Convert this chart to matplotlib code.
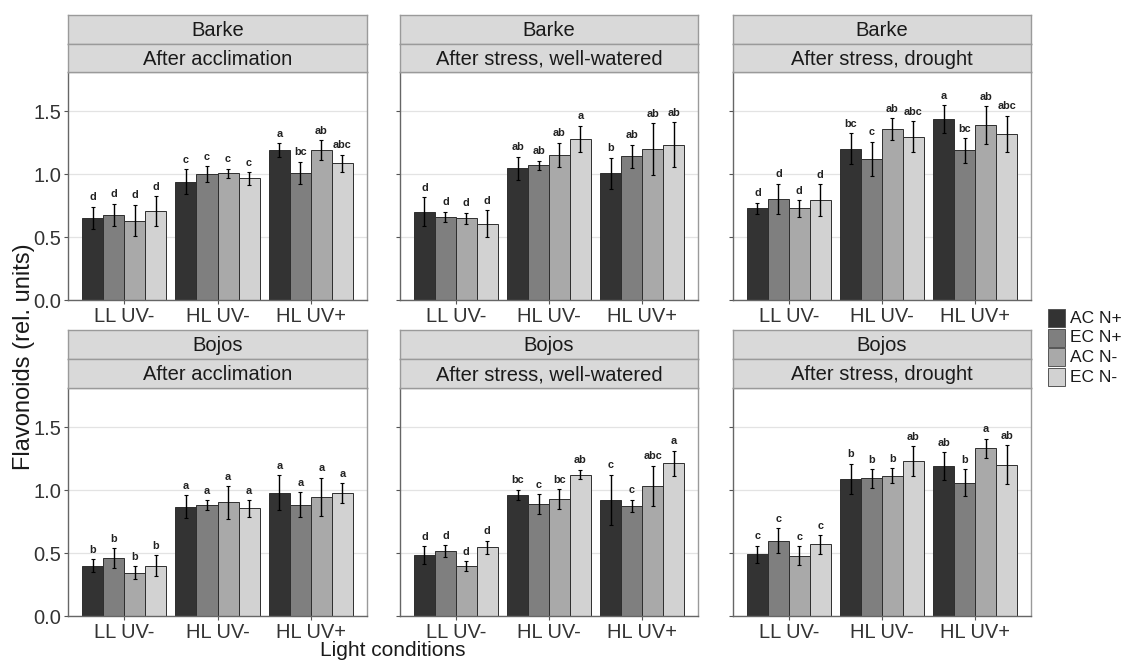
import matplotlib
matplotlib.use("Agg")
import matplotlib.pyplot as plt
import numpy as np
from matplotlib.patches import Rectangle

plt.rcParams['font.family'] = ['Liberation Sans', 'DejaVu Sans']

# ---- data -------------------------------------------------------------
light_levels = ['LL UV-', 'HL UV-', 'HL UV+']
treatments = ['AC N+', 'EC N+', 'AC N-', 'EC N-']
treatment_colors = ['#333333', '#7f7f7f', '#a9a9a9', '#d2d2d2']
cultivars = ['Barke', 'Bojos']
stages = ['After acclimation', 'After stress, well-watered', 'After stress, drought']
y_ticks = [0.0, 0.5, 1.0, 1.5]

# rows: light level, columns: treatment
barke_accl_mean = [[0.65, 0.675, 0.63, 0.705], [0.94, 1.00, 1.005, 0.965], [1.19, 1.01, 1.19, 1.085]]
barke_accl_se = [[0.09, 0.09, 0.125, 0.12], [0.10, 0.062, 0.036, 0.05], [0.054, 0.089, 0.08, 0.07]]
barke_accl_let = [['d', 'd', 'd', 'd'], ['c', 'c', 'c', 'c'], ['a', 'bc', 'ab', 'abc']]

barke_ww_mean = [[0.70, 0.66, 0.648, 0.606], [1.045, 1.069, 1.153, 1.278], [1.005, 1.14, 1.196, 1.233]]
barke_ww_se = [[0.115, 0.042, 0.046, 0.105], [0.093, 0.037, 0.094, 0.107], [0.126, 0.093, 0.206, 0.177]]
barke_ww_let = [['d', 'd', 'd', 'd'], ['ab', 'ab', 'ab', 'a'], ['b', 'ab', 'ab', 'ab']]

barke_dr_mean = [[0.727, 0.804, 0.727, 0.791], [1.201, 1.122, 1.357, 1.296], [1.437, 1.188, 1.389, 1.317]]
barke_dr_se = [[0.044, 0.12, 0.065, 0.127], [0.124, 0.134, 0.087, 0.124], [0.108, 0.097, 0.151, 0.146]]
barke_dr_let = [['d', 'd', 'd', 'd'], ['bc', 'c', 'ab', 'abc'], ['a', 'bc', 'ab', 'abc']]

bojos_accl_mean = [[0.40, 0.46, 0.345, 0.40], [0.866, 0.879, 0.902, 0.855], [0.979, 0.884, 0.945, 0.976]]
bojos_accl_se = [[0.05, 0.079, 0.05, 0.082], [0.091, 0.039, 0.129, 0.066], [0.138, 0.10, 0.151, 0.078]]
bojos_accl_let = [['b', 'b', 'b', 'b'], ['a', 'a', 'a', 'a'], ['a', 'a', 'a', 'a']]

bojos_ww_mean = [[0.484, 0.518, 0.395, 0.545], [0.96, 0.889, 0.929, 1.123], [0.921, 0.876, 1.034, 1.213]]
bojos_ww_se = [[0.068, 0.046, 0.04, 0.053], [0.042, 0.076, 0.079, 0.039], [0.201, 0.047, 0.16, 0.10]]
bojos_ww_let = [['d', 'd', 'd', 'd'], ['bc', 'c', 'bc', 'ab'], ['c', 'c', 'abc', 'a']]

bojos_dr_mean = [[0.489, 0.597, 0.479, 0.568], [1.087, 1.092, 1.113, 1.229], [1.189, 1.058, 1.331, 1.202]]
bojos_dr_se = [[0.07, 0.10, 0.075, 0.072], [0.122, 0.072, 0.06, 0.12], [0.112, 0.108, 0.078, 0.154]]
bojos_dr_let = [['c', 'c', 'c', 'c'], ['b', 'b', 'b', 'ab'], ['ab', 'b', 'a', 'ab']]

panels = [
    [(barke_accl_mean, barke_accl_se, barke_accl_let),
     (barke_ww_mean, barke_ww_se, barke_ww_let),
     (barke_dr_mean, barke_dr_se, barke_dr_let)],
    [(bojos_accl_mean, bojos_accl_se, bojos_accl_let),
     (bojos_ww_mean, bojos_ww_se, bojos_ww_let),
     (bojos_dr_mean, bojos_dr_se, bojos_dr_let)],
]

# ---- layout (pixel geometry of a 1131 x 661 canvas) ---------------------
W, H = 1131, 661
fig = plt.figure(figsize=(W / 100, H / 100), dpi=100)

col_x = [(68, 367), (400, 698), (733, 1031)]
row_plot = [(72, 300), (388, 616)]
row_strip = [(15, 43.5, 72), (330, 359, 388)]

BORDER = '#9a9a9a'
GRID = '#e3e3e3'
STRIP = '#d9d9d9'
TXT = '#1a1a1a'
TICKTXT = '#333333'


def fig_box(x0, x1, ytop, ybot):
    return [x0 / W, 1 - ybot / H, (x1 - x0) / W, (ybot - ytop) / H]


dodge = 0.9
bw = dodge / len(treatments)
xg = np.arange(len(light_levels))

for r, cultivar in enumerate(cultivars):
    for c, stage in enumerate(stages):
        x0, x1 = col_x[c]
        yt, yb = row_plot[r]
        ax = fig.add_axes(fig_box(x0, x1, yt, yb))
        mean, se, let = panels[r][c]
        mean = np.array(mean)
        se = np.array(se)

        ax.set_axisbelow(True)
        for yv in y_ticks:
            ax.axhline(yv, color=GRID, lw=0.9, zorder=0)

        for j, tr in enumerate(treatments):
            xs = xg + (j - 1.5) * bw
            ax.bar(xs, mean[:, j], width=bw, color=treatment_colors[j],
                   edgecolor='#2e2e2e', linewidth=0.7, zorder=2)
            ax.errorbar(xs, mean[:, j], yerr=se[:, j], fmt='none',
                        ecolor='black', elinewidth=1.0, capsize=1.5,
                        capthick=0.8, zorder=3)
            for i in range(len(light_levels)):
                ax.text(xs[i], mean[i, j] + se[i, j] + 0.075, let[i][j],
                        ha='center', va='center', fontsize=7.8,
                        fontweight='bold', color='#222222', zorder=4)

        ax.set_xlim(-0.6, 2.6)
        ax.set_ylim(0, 1.81)
        ax.set_xticks(xg)
        ax.set_xticklabels(light_levels)
        ax.set_yticks(y_ticks)
        if c == 0:
            ax.set_yticklabels([f'{v:.1f}' for v in y_ticks])
        else:
            ax.set_yticklabels([])
        ax.tick_params(axis='both', length=3, width=0.8, color='#555555',
                       labelsize=14.5, labelcolor=TICKTXT, pad=2)
        for s in ax.spines.values():
            s.set_color(BORDER)
            s.set_linewidth(1.0)
        ax.spines['bottom'].set_color('#666666')
        ax.spines['left'].set_color('#666666')

        # facet strips
        s0, s1, s2 = row_strip[r]
        for (ta, tb), label in (((s0, s1), cultivar), ((s1, s2), stage)):
            sax = fig.add_axes(fig_box(x0, x1, ta, tb))
            sax.set_facecolor(STRIP)
            sax.set_xticks([])
            sax.set_yticks([])
            for s in sax.spines.values():
                s.set_color(BORDER)
                s.set_linewidth(1.0)
            sax.text(0.5, 0.45, label, ha='center', va='center',
                     fontsize=14.5, color=TXT, transform=sax.transAxes)

# axis titles
fig.text(24 / W, 1 - 357 / H, 'Flavonoids (rel. units)', rotation=90,
         ha='center', va='center', fontsize=17, color=TXT)
fig.text(393 / W, 1 - 651 / H, 'Light conditions', ha='center', va='center',
         fontsize=15, color=TXT)

# legend
row_top = [309, 328.5, 348, 367.5]
for j, tr in enumerate(treatments):
    yt = row_top[j]
    fig.add_artist(Rectangle((1048 / W, 1 - (yt + 18) / H), 16.5 / W, 18 / H,
                             transform=fig.transFigure,
                             facecolor=treatment_colors[j],
                             edgecolor='#555555', linewidth=0.7))
    fig.text(1070 / W, 1 - (yt + 9.5) / H, tr, ha='left', va='center',
             fontsize=12.5, color=TXT)

fig.savefig('out.png', dpi=100, facecolor='white')
